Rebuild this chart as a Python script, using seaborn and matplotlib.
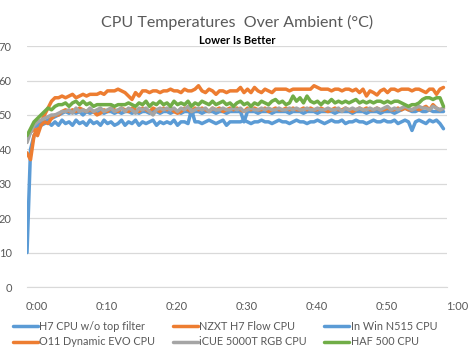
import matplotlib
matplotlib.use('Agg')
import matplotlib.pyplot as plt
import matplotlib.transforms as mtransforms
import numpy as np
import pandas as pd
import seaborn as sns

# 每30秒一个采样点
h7_nofilter = [10, 40, 44, 46, 47, 47.5, 48, 47, 48, 47, 48.5, 47.5, 48, 47, 48.5, 47.5, 48, 47, 48.5, 47.5,
               48, 47, 48.5, 47.5, 48, 47, 47.5, 48.5, 47, 48, 47.5, 48.5, 47, 48, 47.5, 48, 48.5, 47, 48, 47.5,
               48, 47.5, 48.5, 47, 48, 48, 47.5, 51.5, 48, 48, 47.5, 48, 48.5, 48, 47.5, 48, 48.5, 47, 48, 48,
               48, 48, 48.5, 48, 47.5, 48, 48, 48.5, 48, 48, 47.5, 48, 48.5, 48, 48, 47.5, 48, 48.5, 48, 48,
               47.5, 48, 48, 48.5, 48, 47.5, 48, 48.5, 48, 48, 48.5, 47.5, 48, 48, 48.5, 48, 48, 47.5, 48, 48.5,
               48, 48, 48.5, 48, 48, 48.5, 47.5, 48, 48.5, 48, 45.5, 48, 48.5, 48, 47.5, 48.5, 48, 48.5, 47.5, 46]
nzxt_h7_flow = [39, 37, 44, 46, 48, 50, 52, 54, 55, 55, 55.5, 55, 55.5, 56, 55, 55.5, 56, 55.5, 56, 56,
                56, 56.5, 56, 57, 57, 57, 57.5, 57, 56.5, 55.5, 54.5, 56.5, 55.5, 57, 57, 56.5, 57, 57, 56.5, 57,
                57, 57.5, 57, 57, 56.5, 57.5, 57, 57, 57.5, 58.5, 57, 56.5, 57.5, 57, 56, 57, 57, 56.5, 57, 57,
                57, 58, 56.5, 57.5, 56.5, 58, 57, 56.5, 57.5, 57, 56.5, 57.5, 57.5, 57.5, 57.5, 57, 57.5, 57.5, 57.5, 57.5,
                57.5, 57.5, 58.5, 58, 57.5, 57.5, 57.5, 57, 57.5, 57.5, 57, 57.5, 57.5, 57, 57.5, 56.5, 57.5, 55.5, 57, 56.5,
                55.8, 57, 57.5, 56.5, 57.5, 57.5, 57, 57.5, 57.5, 57.5, 57, 57.5, 57.5, 57, 56.5, 57.5, 57.5, 56, 57.5, 58]
inwin_n515 = [43, 45, 46.5, 47, 47.5, 48, 48.5, 49, 49.5, 50, 50.5, 51, 50.5, 51, 50.5, 51, 50, 51, 50.5, 51,
              50.5, 51, 50.5, 51, 51, 50.5, 51, 50.5, 51, 51, 50.5, 51, 50.5, 51, 51, 50.5, 51, 51, 50.5, 51,
              51, 50.5, 51, 51, 50.5, 51, 51, 50.5, 51, 51, 50.5, 51, 51, 51, 50.5, 51, 51, 50.5, 51, 51,
              51, 51, 48, 51, 51, 51, 50.5, 51, 51, 51, 50.5, 51, 51, 51, 51, 50.5, 51, 51, 51, 50.5,
              51, 51, 51, 50.5, 51, 51, 51, 51, 50.5, 51, 51, 51, 51, 50.5, 51, 51, 51, 50.5, 51, 51,
              51, 50.5, 51, 51, 51, 50.5, 51, 51.5, 52, 51.5, 51, 51, 51.5, 51, 51, 51.5, 51, 51, 51, 51]
o11_evo = [44, 45, 46, 44, 47, 48, 47.5, 49, 50, 50, 51, 51.5, 51, 51.5, 51, 52, 51.5, 51, 51.5, 51,
           50, 50.5, 51.5, 51, 52, 51.5, 51, 52, 51.5, 51, 52, 51.5, 51, 52, 51.5, 51, 52, 51.5, 51, 52,
           51.5, 52, 51, 50.5, 51, 52, 51.5, 51, 52, 51.5, 52, 51.5, 51, 52, 51.5, 52, 51, 51.5, 52, 51.5,
           52, 51.5, 51, 52, 51.5, 52, 51.5, 51.5, 52, 51, 51.5, 52, 51.5, 51.5, 52, 51.5, 52, 51.5, 51.5, 52,
           51.5, 52, 51.5, 51.5, 52, 51.5, 51, 51.5, 52, 51.5, 51.5, 52, 51.5, 51, 51.5, 52, 51.5, 52, 51.5, 51.5,
           52, 51.5, 51.5, 52, 51.5, 51.5, 52, 51.5, 52, 51.5, 51.5, 52, 51.5, 52, 52.5, 51.5, 53, 52, 51.5, 52]
icue_5000t = [42, 45, 47, 48, 48.5, 49, 49.5, 50, 50, 50.5, 51, 51, 51.5, 50.5, 52, 51, 51.5, 51, 52, 51,
              51.5, 52, 51, 51.5, 52, 51, 51.5, 52, 51, 52, 51.5, 50.5, 52, 51.5, 52, 51, 50, 51.5, 52, 51.5,
              52, 51.5, 52, 51, 52, 51.5, 52.5, 51, 51.5, 52, 51.5, 52, 51, 52, 51.5, 51.5, 52, 51.5, 51.5, 52,
              51.5, 52, 51, 51.5, 52, 51.5, 51.5, 52, 51.5, 52, 51.5, 51.5, 52, 51.5, 51.5, 52, 51.5, 52, 51.5, 51.5,
              52, 51.5, 51.5, 52, 51.5, 51.5, 52, 51.5, 51.5, 52, 51, 52, 51.5, 52, 51.5, 52, 51.5, 51.5, 52, 51.5,
              52, 51.5, 52, 52.5, 51.5, 52, 51.5, 52, 52.5, 52, 51.5, 52, 52.5, 52, 52, 51.5, 52.5, 52, 51.5, 52]
haf_500 = [44, 46, 48, 49, 50, 51, 52, 51.5, 52.5, 53, 53, 53.5, 52.5, 53.5, 54, 53, 54, 53, 53.5, 52.5,
           53, 53, 53, 53, 53, 52.5, 53, 53, 53, 53.5, 53, 52.5, 53.5, 53, 54, 52.5, 53.5, 53, 54, 53,
           53.5, 52.5, 54, 53, 53.5, 53, 54, 52.5, 53.5, 53, 54, 53.5, 53, 54, 53, 53.5, 54, 53, 53.5, 52.5,
           53.5, 54, 53, 53.5, 52.5, 53.5, 53, 54, 53.5, 53, 54, 54.5, 53.5, 54, 53, 53.5, 55.5, 54, 55, 53.5,
           55.5, 54, 53.5, 54, 53, 54, 53.5, 54.5, 53.5, 54, 53.5, 54, 53.5, 54, 54.5, 53.5, 54, 53.5, 54, 53.5,
           54, 54, 53.5, 54, 53.5, 54, 54, 53.5, 53, 52.5, 53, 53, 53.5, 54.5, 55, 55, 54.5, 55, 55, 52.5]

names = ['H7 CPU w/o top filter', 'NZXT H7 Flow CPU', 'In Win N515 CPU',
         'O11 Dynamic EVO CPU', 'iCUE 5000T RGB CPU', 'HAF 500 CPU']
series = [h7_nofilter, nzxt_h7_flow, inwin_n515, o11_evo, icue_5000t, haf_500]
colors = ['#5B9BD5', '#ED7D31', '#5B9BD5', '#ED7D31', '#A5A5A5', '#70AD47']
tick_labels = ['0:00', '0:10', '0:20', '0:30', '0:40', '0:50', '1:00']

minutes = np.arange(len(h7_nofilter)) * 0.5
df = pd.concat([pd.DataFrame({'min': minutes, 'temp': s, 'name': n}) for n, s in zip(names, series)])

sns.set_style('white')
plt.rcParams['font.family'] = ['Lato', 'DejaVu Sans']

fig = plt.figure(figsize=(4.74, 3.55), dpi=100)
ax = fig.add_axes([0.057, 0.1915, 0.886, 0.6785])
sns.lineplot(data=df, x='min', y='temp', hue='name', hue_order=names,
             palette=dict(zip(names, colors)), linewidth=2.5, ax=ax, legend=False)

ax.set_xlim(0, 60)
ax.set_ylim(0, 70)
ax.set_yticks(range(0, 71, 10))
ax.set_xticks(range(0, 61, 10))
ax.set_xticklabels(tick_labels)
ax.set_xlabel('')
ax.set_ylabel('')
ax.yaxis.grid(True, color='#D9D9D9', linewidth=0.9)
ax.set_axisbelow(True)
for side in ['top', 'right', 'left']:
    ax.spines[side].set_visible(False)
ax.spines['bottom'].set_color('#D9D9D9')
ax.tick_params(axis='both', length=0, colors='#595959', labelsize=8)
ax.tick_params(axis='y', pad=11)
ax.tick_params(axis='x', pad=10)
offset = mtransforms.ScaledTranslation(0.1, 0, fig.dpi_scale_trans)
for lab in ax.get_xticklabels():
    lab.set_transform(lab.get_transform() + offset)

fig.text(0.5, 0.938, 'CPU Temperatures  Over Ambient (°C)', ha='center', va='center',
         fontsize=11.5, color='#595959')
fig.text(0.5, 0.887, 'Lower Is Better', ha='center', va='center',
         fontsize=8, fontweight='bold', color='black')

handles = ax.get_lines()[:6]
order = [0, 3, 1, 4, 2, 5]
fig.legend([handles[i] for i in order], [names[i] for i in order], ncol=3,
           loc='center left', bbox_to_anchor=(0.027, 0.059), frameon=False,
           fontsize=7.8, labelcolor='#595959', handlelength=2.3, handletextpad=0.15,
           columnspacing=1.6, labelspacing=0.45, borderpad=0, borderaxespad=0)

fig.savefig('out.png', dpi=100, facecolor='white')
